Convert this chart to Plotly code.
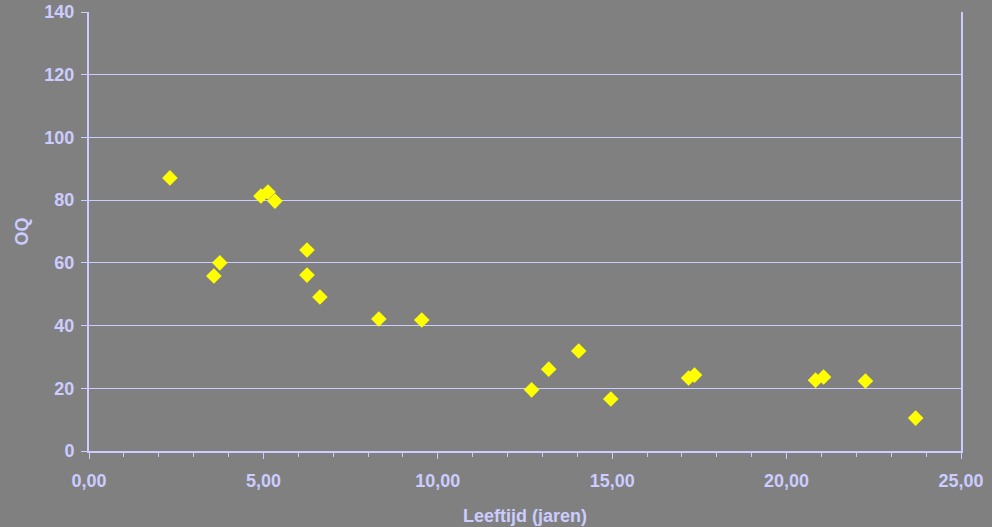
import plotly.graph_objects as go

# Leeftijd (jaren) and OQ per patient
leeftijd = [2.32, 3.58, 3.75, 4.93, 5.13, 5.33, 6.25, 6.25, 6.62, 8.31,
            9.54, 12.69, 13.18, 14.04, 14.96, 17.19, 17.36, 20.83, 21.06,
            22.26, 23.70]
oq = [87.1, 55.8, 60.0, 81.3, 82.6, 79.7, 64.1, 56.1, 49.1, 42.1,
      41.8, 19.5, 26.1, 31.9, 16.6, 23.3, 24.2, 22.6, 23.6, 22.3, 10.5]

x_ticks = [0, 5, 10, 15, 20, 25]
x_labels = ["0,00", "5,00", "10,00", "15,00", "20,00", "25,00"]
y_ticks = [0, 20, 40, 60, 80, 100, 120, 140]

bg = "#808080"
lav = "#CCCCFF"
family = "Arial, Liberation Sans, sans-serif"
bold = dict(family=family, size=18, color=lav, weight="bold")

fig = go.Figure(go.Scatter(
    x=leeftijd, y=oq, mode="markers",
    marker=dict(symbol="diamond", size=12, color="#FFFF00",
                line=dict(width=0)),
    showlegend=False,
))

fig.update_layout(
    width=992, height=527,
    paper_bgcolor=bg, plot_bgcolor=bg,
    margin=dict(l=89, r=31, t=12, b=76),
    font=dict(family=family, color=lav),
)
fig.update_xaxes(
    range=[0, 25], tickvals=x_ticks, ticktext=x_labels,
    showgrid=False, zeroline=False, automargin=False,
    showline=True, linecolor=lav, linewidth=2, mirror=False,
    ticks="outside", ticklen=6, tickcolor=lav, tickwidth=1,
    minor=dict(dtick=1, ticks="outside", ticklen=4, tickcolor=lav, showgrid=False),
    tickfont=bold, ticklabelstandoff=6,
    title=dict(text="Leeftijd (jaren)", standoff=20, font=bold),
)
fig.update_yaxes(
    range=[0, 140], tickvals=y_ticks,
    showgrid=True, gridcolor=lav, gridwidth=1, zeroline=False, automargin=False,
    showline=True, linecolor=lav, linewidth=2, mirror=True,
    ticks="outside", ticklen=6, tickcolor=lav,
    tickfont=bold, ticklabelstandoff=3,
    title=dict(text="OQ", standoff=11, font=bold),
)

fig.write_html("out.html")
